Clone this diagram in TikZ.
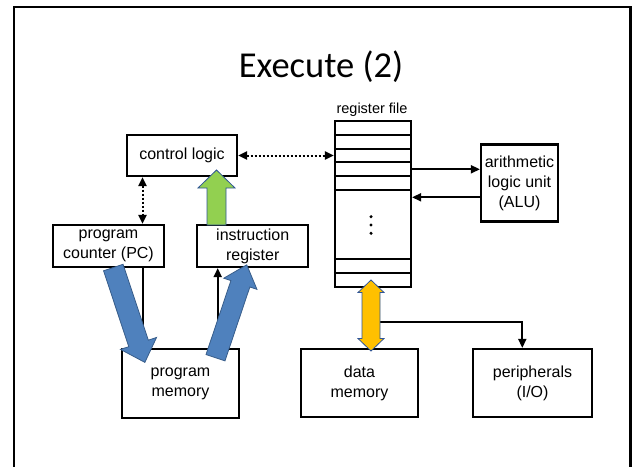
\documentclass[tikz,border=0pt]{standalone}
\usepackage{fontspec}
\setmainfont{Liberation Sans}
\newfontfamily\titlefont{Carlito}
\usetikzlibrary{arrows.meta,calc}
\definecolor{bluefill}{RGB}{79,129,189}
\definecolor{blueedge}{RGB}{56,93,138}
\definecolor{greenfill}{RGB}{146,208,80}
\definecolor{yellowfill}{RGB}{255,192,0}
\definecolor{arrowedge}{RGB}{47,85,151}
\tikzset{
  box/.style={draw, line width=2.2pt, inner sep=0pt, align=center,
    font=\fontsize{16}{20}\selectfont},
  conn/.style={line width=2pt, -{Triangle[length=9pt,width=8pt]}},
  plainconn/.style={line width=2pt},
  dotconn/.style={line width=2pt, dash pattern=on 2pt off 2pt,
    {Triangle[length=9pt,width=8pt]}-{Triangle[length=9pt,width=8pt]}},
  blockblue/.style={fill=bluefill, draw=blueedge, line width=0.8pt, line join=miter},
  blockgreen/.style={fill=greenfill, draw=arrowedge, line width=0.8pt},
  blockyellow/.style={fill=yellowfill, draw=arrowedge, line width=0.8pt},
  rowline/.style={line width=2pt}
}
\begin{document}
\begin{tikzpicture}[x=1pt,y=-1pt]
\useasboundingbox (0,0) rectangle (634,466);
% slide frame
\draw[line width=2.7pt] (14,480) -- (14,7) -- (630.5,7) -- (630.5,480);
% title
\node[anchor=base, font=\titlefont\fontsize{36.5}{40}\selectfont] (title) at (321,77) {Execute (2)};

% boxes
\node[box, minimum width=110pt, minimum height=41pt] (ctrl) at (182,155.5) {control logic};
\node[box, minimum width=111pt, minimum height=42pt] (pc) at (108.5,246) {program\\counter (PC)};
\node[box, minimum width=111pt, minimum height=42pt] (ir) at (252.7,246) {instruction\\register};
\node[box, minimum width=117pt, minimum height=69pt] (pm) at (180.5,383.5) {program\\memory};
\node[box, minimum width=117pt, minimum height=68pt] (dm) at (359.5,383) {data\\memory};
\node[box, minimum width=118.5pt, minimum height=68pt] (per) at (532.5,383) {peripherals\\(I/O)};
\node[box, minimum width=77pt, minimum height=77pt, yshift=1.5pt] (alu) at (519.5,184.5) {arithmetic\\logic unit\\(ALU)};

% register file
\node[draw, line width=2.2pt, minimum width=76pt, minimum height=166pt, inner sep=0pt] (rf) at (373,204) {};
\node[anchor=base, font=\fontsize{14.5}{17}\selectfont] (rflabel) at (372,113.5) {register file};
\foreach \yy in {134.8,148.6,162.4,176.2,190,259.4,273.2}{
  \draw[rowline] (rf.west |- 0,\yy) -- (rf.east |- 0,\yy);
}
\foreach \yy in {216.7,225,233.3}{
  \fill (371,\yy) circle (1.7pt);
}

% helper coordinates
\coordinate (pcline) at (142.5,0);
\coordinate (irline) at (217.7,0);
\coordinate (alu1) at (0,169.3);
\coordinate (alu2) at (0,197.3);
\coordinate (bus) at (379.5,321.7);
\coordinate (perx) at (522.3,0);

% connectors
\draw[dotconn] (ctrl.east) -- (ctrl.east -| rf.west);
\draw[dotconn] (pcline |- ctrl.south) -- (pcline |- pc.north);
\draw[plainconn] (pcline |- pc.south) -- (pcline |- pm.north);
\draw[conn] (irline |- pm.north) -- (irline |- ir.south);
\draw[conn] (rf.east |- alu1) -- (alu.west |- alu1);
\draw[conn] (alu.west |- alu2) -- (rf.east |- alu2);
\draw[conn] (bus) -| (perx |- per.north);

% block arrows
\draw[blockgreen] (216.5,170) -- (235,188) -- (226,188) -- (226,225) -- (207,225) -- (207,188) -- (198,188) -- cycle;
\draw[blockyellow] (371,280) -- (384,292.5) -- (380,292.5) -- (380,338.5) -- (384,338.5) -- (371,351)
  -- (358,338.5) -- (362,338.5) -- (362,292.5) -- (358,292.5) -- cycle;
\begin{scope}[shift={(113.3,267.5)}, rotate=-71.6]
  \draw[blockblue] (0,-10.3) -- (80,-10.3) -- (80,-19) -- (100,0) -- (80,19) -- (80,10.3) -- (0,10.3) -- cycle;
\end{scope}
\begin{scope}[shift={(215.5,357.7)}, rotate=71.4]
  \draw[blockblue] (0,-10) -- (78,-10) -- (78,-17.5) -- (98,0) -- (78,17.5) -- (78,10) -- (0,10) -- cycle;
\end{scope}
\end{tikzpicture}
\end{document}
